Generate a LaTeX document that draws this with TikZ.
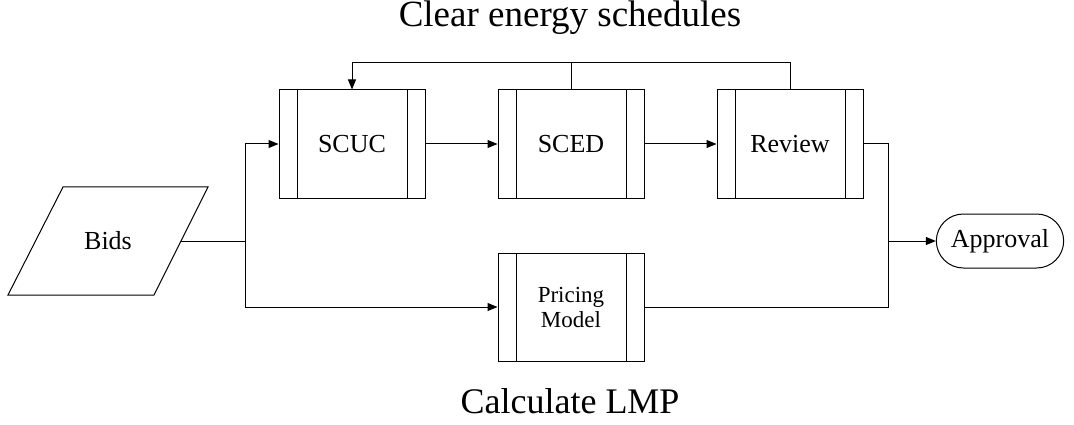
\documentclass[tikz,border=0pt]{standalone}
\usepackage{fontspec}
\setmainfont{Liberation Serif}
\usetikzlibrary{arrows.meta, positioning, shapes.misc}

\begin{document}
\begin{tikzpicture}[x=1pt, y=-1pt, >={Triangle[length=10pt,width=8pt]}, node distance=72pt, line width=1pt,
    procbox/.style={draw, minimum width=146pt, minimum height=108pt, align=center, font=\fontsize{26}{28}\selectfont,
        path picture={\draw[line width=1pt] ([xshift=18pt]path picture bounding box.north west) -- ([xshift=18pt]path picture bounding box.south west)
            ([xshift=-18pt]path picture bounding box.north east) -- ([xshift=-18pt]path picture bounding box.south east);}},
    titletext/.style={anchor=base, font=\fontsize{37}{40}\selectfont}]
    \useasboundingbox (0,0) rectangle (1074,425);

    % Input
    \node[font=\fontsize{26}{28}\selectfont] (bids) at (108,241) {Bids};
    \draw ([shift={(-45,-54)}]bids.center) -- ([shift={(100,-54)}]bids.center)
        -- ([shift={(46,54)}]bids.center) -- ([shift={(-100,54)}]bids.center) -- cycle;
    \coordinate (bidsout) at ([xshift=73pt]bids.center);

    % Energy schedule steps
    \node[procbox] (scuc) at (352,144) {SCUC};
    \node[procbox, right=of scuc] (sced) {SCED};
    \node[procbox, right=of sced] (review) {Review};

    % Pricing
    \node[procbox, below=54pt of sced, font=\fontsize{23}{25}\selectfont] (price) {Pricing\\Model};

    % Output
    \node[draw, rounded rectangle, minimum width=134pt, minimum height=54pt, font=\fontsize{26}{28}\selectfont] (approval) at (1000,241) {Approval};

    % Labels
    \node[titletext] (cleartitle) at (570,27) {Clear energy schedules};
    \node[titletext, font=\fontsize{36}{40}\selectfont] (lmptitle) at (570,413) {Calculate LMP};

    % Junctions
    \coordinate (split) at (245,241);
    \coordinate (join) at (888,241);

    % Arrows
    \draw (bidsout) -- (split);
    \draw[->] (split) |- (scuc.west);
    \draw[->] (split) |- (price.west);
    \draw[->] (scuc) -- (sced);
    \draw[->] (sced) -- (review);
    \draw[->] (review.north) -- ++(0,-27) -| (scuc.north);
    \draw (sced.north) -- ++(0,-27);
    \draw (review.east) -| (join);
    \draw (price.east) -| (join);
    \draw[->] (join) -- (approval.west);
\end{tikzpicture}
\end{document}
